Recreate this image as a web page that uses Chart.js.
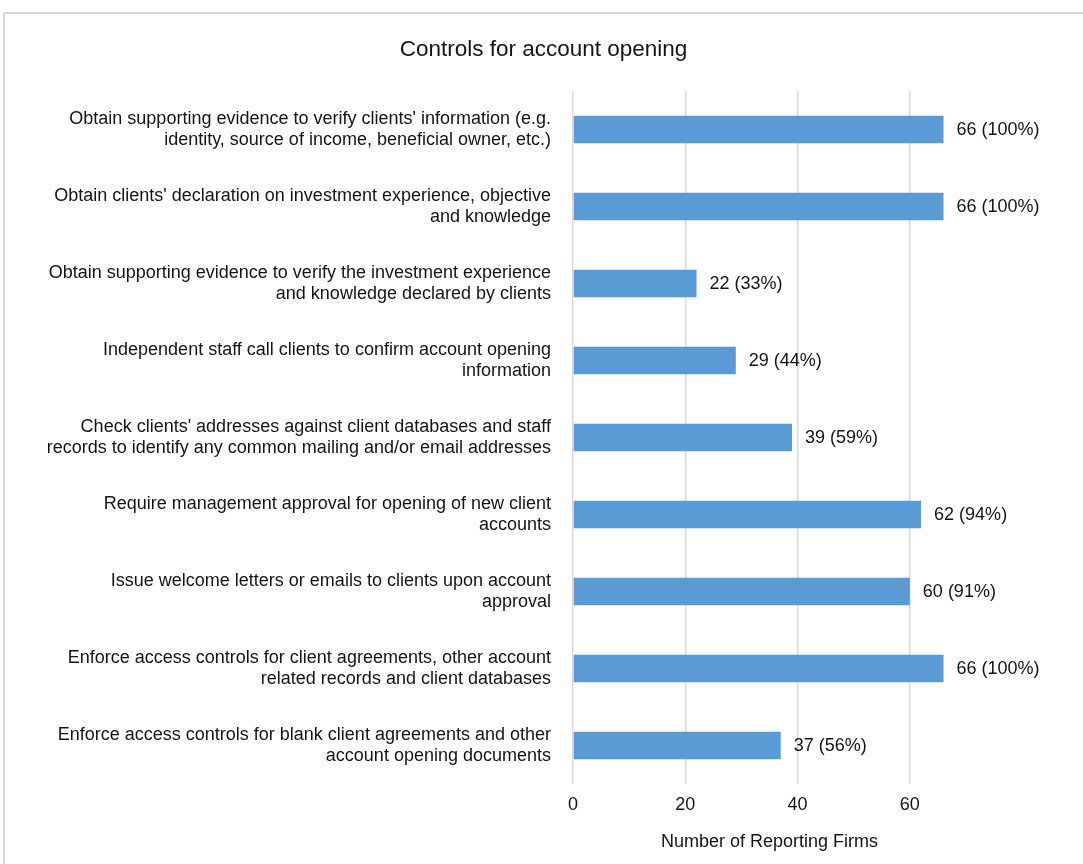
<!DOCTYPE html>
<html lang="en">
<head>
  <meta charset="UTF-8">
  <title>Controls for account opening</title>
  <style>
    html, body { margin: 0; padding: 0; background: #fff; overflow: hidden; }
    #frame { position: absolute; left: 3px; top: 12px; width: 1200px; height: 1000px;
             border-left: 2px solid #d9d9d9; border-top: 2px solid #d9d9d9; }
    #chart { position: absolute; left: 0; top: 0; }
  </style>
  <script src="https://cdn.jsdelivr.net/npm/chart.js"></script>
</head>
<body>
  <div id="frame"></div>
  <canvas id="chart" width="1083" height="864"></canvas>
  <script>
    // data
    const chartTitle = 'Controls for account opening';
    const categories = [
      ["Obtain supporting evidence to verify clients' information (e.g.", "identity, source of income, beneficial owner, etc.)"],
      ["Obtain clients' declaration on investment experience, objective", "and knowledge"],
      ["Obtain supporting evidence to verify the investment experience", "and knowledge declared by clients"],
      ["Independent staff call clients to confirm account opening", "information"],
      ["Check clients' addresses against client databases and staff", "records to identify any common mailing and/or email addresses"],
      ["Require management approval for opening of new client", "accounts"],
      ["Issue welcome letters or emails to clients upon account", "approval"],
      ["Enforce access controls for client agreements, other account", "related records and client databases"],
      ["Enforce access controls for blank client agreements and other", "account opening documents"]
    ];
    const firmCounts = [66, 66, 22, 29, 39, 62, 60, 66, 37];
    const firmPercents = [100, 100, 33, 44, 59, 94, 91, 100, 56];
    const xTicks = [0, 20, 40, 60];

    const FONT = "'Liberation Sans', Arial, sans-serif";
    const TEXT = '#141414';

    // value labels to the right of each bar
    const barLabels = {
      id: 'barLabels',
      afterDatasetsDraw(chart) {
        const ctx = chart.ctx;
        const meta = chart.getDatasetMeta(0);
        ctx.save();
        ctx.font = '18px ' + FONT;
        ctx.fillStyle = TEXT;
        ctx.textAlign = 'left';
        ctx.textBaseline = 'middle';
        meta.data.forEach((bar, i) => {
          ctx.fillText(firmCounts[i] + ' (' + firmPercents[i] + '%)', bar.x + 13, bar.y + 1);
        });
        ctx.restore();
      }
    };

    // title centred on the whole canvas, not just the plot
    const pageTitle = {
      id: 'pageTitle',
      afterDraw(chart) {
        const ctx = chart.ctx;
        ctx.save();
        ctx.font = '22.5px ' + FONT;
        ctx.fillStyle = TEXT;
        ctx.textAlign = 'center';
        ctx.textBaseline = 'middle';
        ctx.fillText(chartTitle, chart.width / 2 + 2, 50);
        ctx.restore();
      }
    };

    new Chart(document.getElementById('chart'), {
      type: 'bar',
      data: {
        labels: categories,
        datasets: [{
          data: firmCounts,
          backgroundColor: '#5b9bd5',
          borderWidth: 0,
          barPercentage: 0.36,
          categoryPercentage: 1.0
        }]
      },
      options: {
        indexAxis: 'y',
        responsive: false,
        animation: false,
        devicePixelRatio: 1,
        layout: { padding: { left: 0, right: 117, top: 91, bottom: 0 } },
        plugins: {
          legend: { display: false },
          tooltip: { enabled: false },
          title: { display: false }
        },
        scales: {
          x: {
            min: 0,
            max: 70,
            afterBuildTicks: scale => {
              scale.ticks = xTicks.map(v => ({ value: v }));
            },
            afterFit: scale => { scale.height = 80; },
            grid: { color: '#d9d9d9', lineWidth: 1.5, drawTicks: false },
            border: { display: false },
            ticks: {
              padding: 10,
              color: TEXT,
              font: { family: FONT, size: 18 }
            },
            title: {
              display: true,
              text: 'Number of Reporting Firms',
              color: TEXT,
              font: { family: FONT, size: 18 },
              padding: { top: 0, bottom: 11 }
            }
          },
          y: {
            afterFit: scale => { scale.width = 573; },
            grid: { display: false, drawTicks: false },
            border: { display: false },
            ticks: {
              padding: 22,
              color: TEXT,
              font: { family: FONT, size: 18, lineHeight: 1.13 }
            }
          }
        }
      },
      plugins: [barLabels, pageTitle]
    });
  </script>
</body>
</html>
